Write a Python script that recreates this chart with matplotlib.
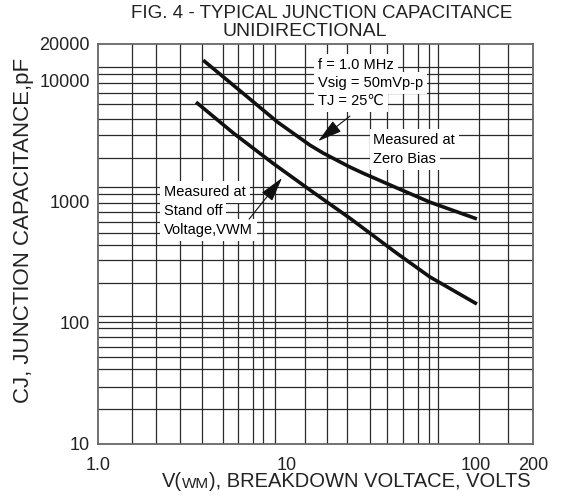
import matplotlib
matplotlib.use("Agg")
import matplotlib.pyplot as plt
from matplotlib.ticker import NullLocator

plt.rcParams['font.family'] = ['Liberation Sans', 'DejaVu Sans']

# curve (volts, pF)
zero_bias_v = [3.6, 5.6, 8.9, 13.2, 15.5, 21.5, 25.2, 38, 57, 101]
zero_bias_c = [14700, 8300, 4540, 2930, 2520, 1930, 1720, 1300, 990, 720]

standoff_v = [3.3, 5.2, 8.4, 13.2, 21.5, 38, 57, 101]
standoff_c = [6630, 3680, 2080, 1250, 730, 376, 239, 143]

x_ticks = [1, 10, 100, 200]
x_tick_labels = ['1.0', '10', '100', '200']
y_ticks = [10, 100, 1000, 10000, 20000]
y_tick_labels = ['10', '100', '1000', '10000', '20000']

# grid lines of the printed chart paper (not a clean log grid)
grid_v = [1.51, 2.03, 2.72, 3.53, 4.56, 5.51, 6.61, 7.46, 8.59,
          12.45, 16.2, 20.8, 27.5, 33.8, 41.1, 49.3, 56.4, 62.9, 103.7, 147.7]
grid_c = [12830, 11290, 9460, 7830, 6350, 4800, 3540, 2300,
          1327, 1155, 979, 821, 683, 554, 441, 330, 214,
          114, 101, 90, 77, 63.5, 52.5, 41.3, 29.4, 19.3]

fig = plt.figure(figsize=(5.66, 4.96), dpi=100)
ax = fig.add_axes([98 / 566, 52 / 496, 435 / 566, 400 / 496])
ax.set_xscale('log')
ax.set_yscale('log')
ax.set_xlim(1, 200)
ax.set_ylim(10, 20000)

for v in grid_v:
    ax.axvline(v, color='#2a2a2a', lw=0.9, zorder=1)
for c in grid_c:
    ax.axhline(c, color='#2a2a2a', lw=0.9, zorder=1)

ax.plot(zero_bias_v, zero_bias_c, color='#111111', lw=2.6, zorder=4, solid_capstyle='butt')
ax.plot(standoff_v, standoff_c, color='#111111', lw=2.6, zorder=4, solid_capstyle='butt')

ax.set_xticks(x_ticks)
ax.set_xticklabels(x_tick_labels)
ax.set_yticks(y_ticks)
ax.set_yticklabels(y_tick_labels)
ax.xaxis.set_minor_locator(NullLocator())
ax.yaxis.set_minor_locator(NullLocator())
ax.tick_params(axis='both', length=0, labelsize=13, colors='#222222')
ax.tick_params(axis='x', pad=9)
ax.tick_params(axis='y', pad=6)

for s in ax.spines.values():
    s.set_color('#666666')
    s.set_linewidth(1.3)

box = dict(boxstyle='square,pad=0.25', fc='white', ec='none')

# condition notes, one white strip per line like the print
notes = ['f = 1.0 MHz', 'Vsig = 50mVp-p', 'TJ = 25\u2103']
for i, t in enumerate(notes):
    ax.text(0.506, 0.9475 - i * 0.045, t, transform=ax.transAxes, fontsize=10.5,
            ha='left', va='center', bbox=box, zorder=5)

for i, t in enumerate(['Measured at', 'Zero Bias']):
    ax.text(0.633, 0.76 - i * 0.0475, t, transform=ax.transAxes, fontsize=10.5,
            ha='left', va='center', bbox=box, zorder=5)

for i, t in enumerate(['Measured at', 'Stand off', 'Voltage,VWM']):
    ax.text(0.152, 0.63 - i * 0.0475, t, transform=ax.transAxes, fontsize=10.5,
            ha='left', va='center', bbox=box, zorder=5)

arrow = dict(arrowstyle='-|>,head_length=0.8,head_width=0.22', color='#111111',
             lw=0.8, mutation_scale=19, shrinkA=0, shrinkB=0)
ax.annotate('', xy=(14.6, 3160), xytext=(21.5, 5080), arrowprops=arrow, zorder=6)
ax.annotate('', xy=(9.4, 1566), xytext=(6.3, 718), arrowprops=arrow, zorder=6)

# title, two lines
fig.text(322 / 566, 1 - 14 / 496, 'FIG. 4 - TYPICAL JUNCTION CAPACITANCE',
         ha='center', va='center', fontsize=13.5, color='#222222')
fig.text(305 / 566, 1 - 31 / 496, 'UNIDIRECTIONAL',
         ha='center', va='center', fontsize=14, color='#222222')

# y label
fig.text(24 / 566, 1 - 230 / 496, 'CJ, JUNCTION CAPACITANCE,pF', rotation=90,
         ha='center', va='center', fontsize=16, color='#222222')

# x label with the small "WM"
t1 = fig.text(162 / 566, 1 - 491 / 496, 'V(', ha='left', va='bottom',
              fontsize=14.5, color='#222222')
t2 = ax.annotate('WM', xy=(1, 0), xycoords=t1, ha='left', va='bottom',
                 fontsize=11, color='#222222', annotation_clip=False)
ax.annotate('), BREAKDOWN VOLTACE, VOLTS', xy=(1, 0), xycoords=t2, ha='left',
            va='bottom', fontsize=14.5, color='#222222', annotation_clip=False)

fig.savefig('out.png', dpi=100)
